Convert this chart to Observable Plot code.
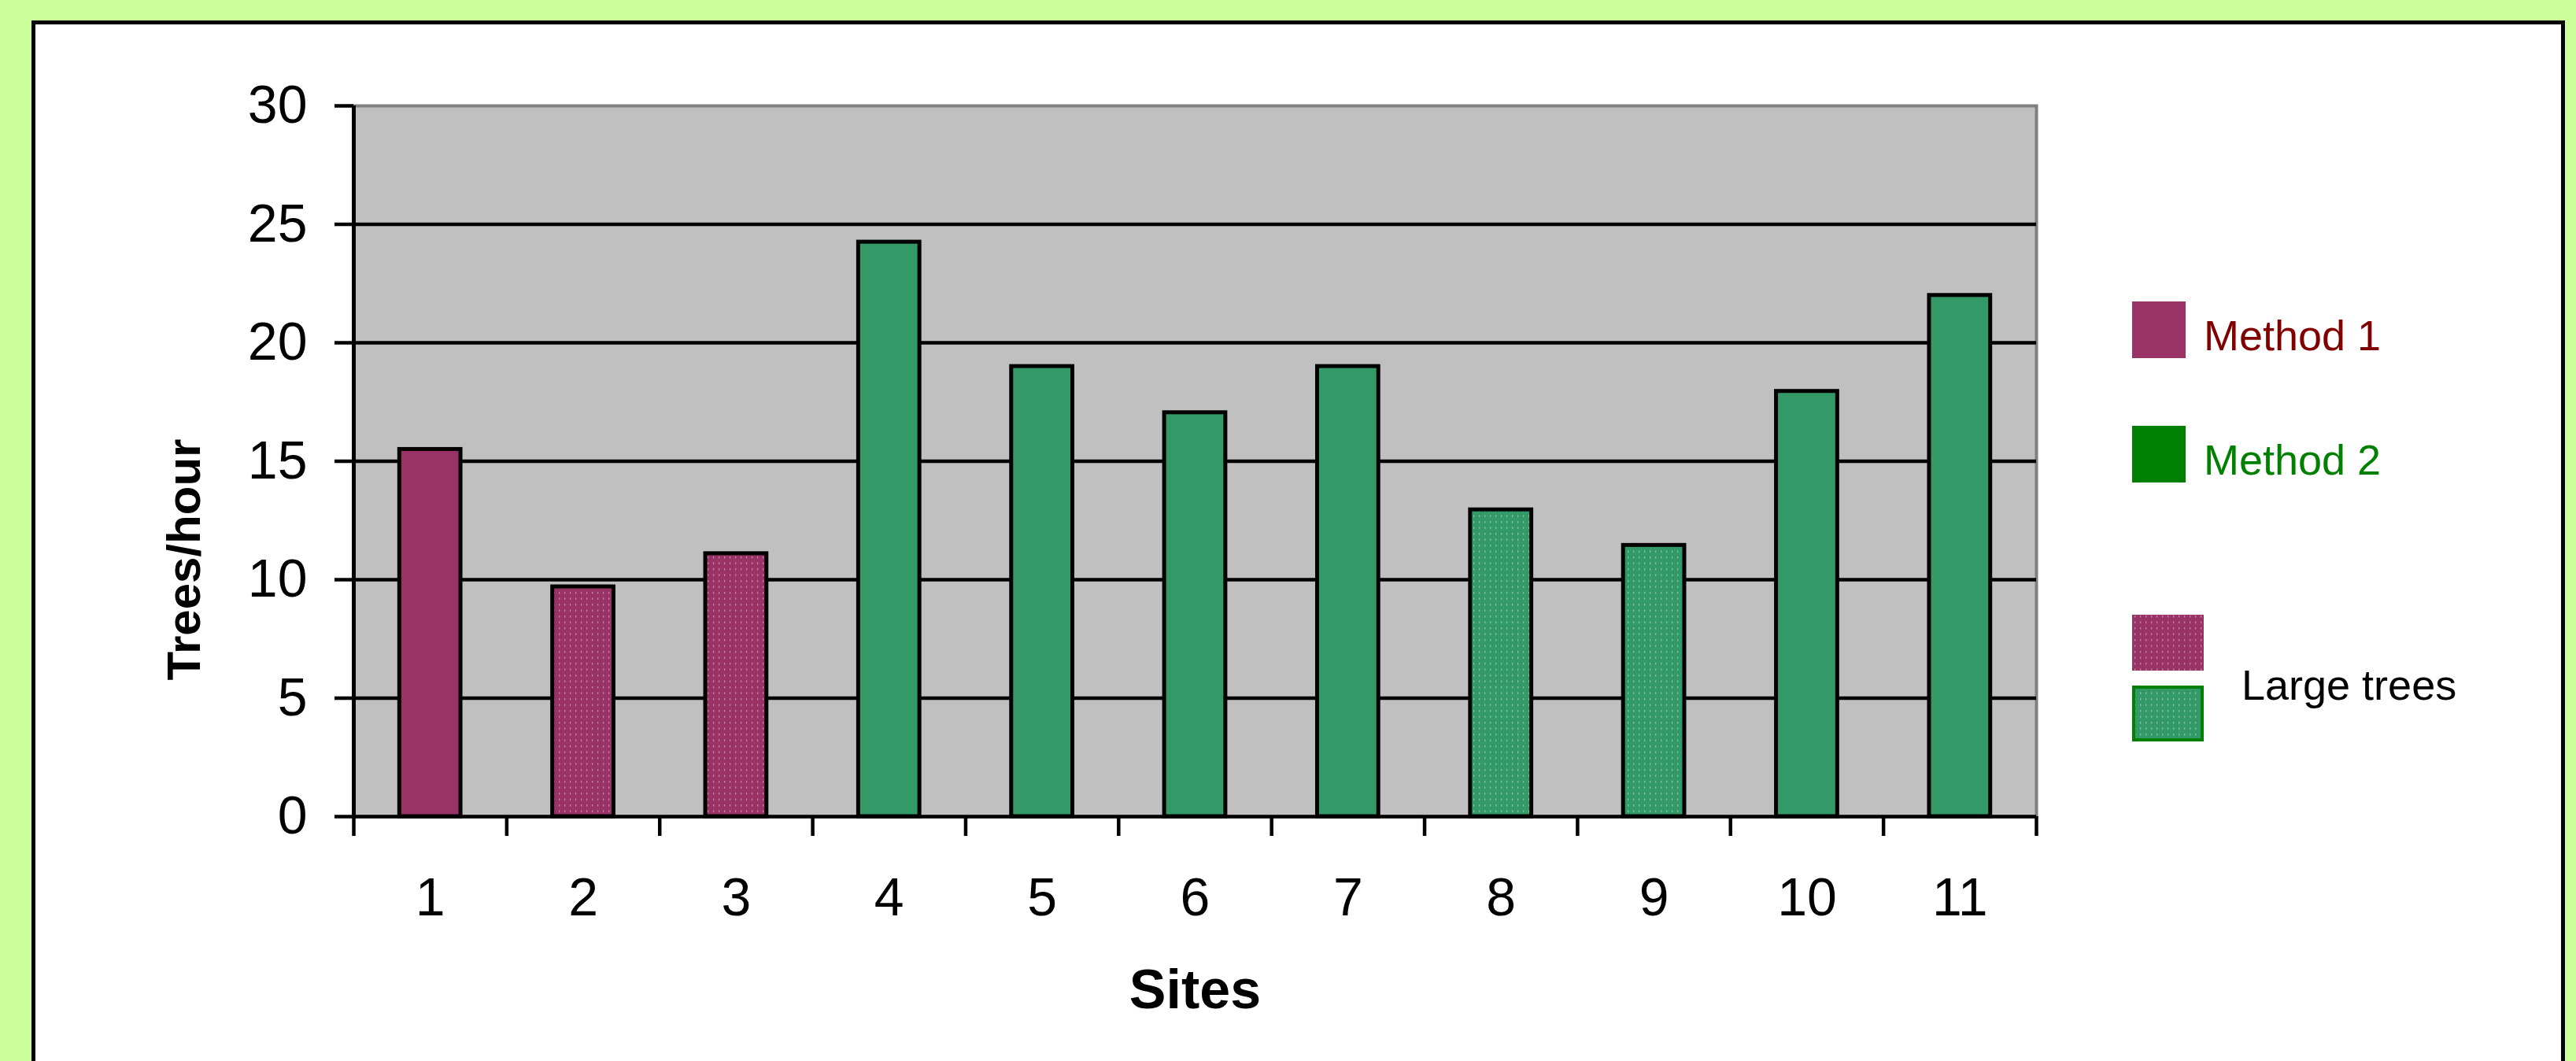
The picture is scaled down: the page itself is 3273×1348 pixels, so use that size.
<!DOCTYPE html>
<html>
<head>
<meta charset="utf-8">
<script src="https://cdn.jsdelivr.net/npm/d3@7"></script>
<script src="https://cdn.jsdelivr.net/npm/@observablehq/plot@0.6"></script>
<style>
html, body { margin: 0; padding: 0; overflow: hidden; background: #CCFF99; width: 3273px; height: 1348px; }
#frame { position: absolute; left: 40px; top: 26px; width: 3219px; height: 1400px; box-sizing: border-box; border: 5px solid #000; background: #fff; }
#chart { position: absolute; left: 0; top: 0; }
#legend { position: absolute; left: 0; top: 0; pointer-events: none; }
</style>
</head>
<body>
<div id="frame"></div>
<svg width="0" height="0" style="position:absolute">
  <defs>
    <pattern id="dotsMagenta" patternUnits="userSpaceOnUse" width="7" height="7.5">
      <rect width="7" height="7.5" fill="#993366"></rect>
      <rect x="3" y="2" width="1.3" height="2.4" fill="#c98aab"></rect>
    </pattern>
    <pattern id="dotsGreen" patternUnits="userSpaceOnUse" width="7" height="7.5">
      <rect width="7" height="7.5" fill="#339966"></rect>
      <rect x="3" y="2" width="1.3" height="2.4" fill="#8cc9a6"></rect>
    </pattern>
  </defs>
</svg>
<div id="chart"></div>
<svg id="legend" width="3273" height="1348"></svg>
<script>
// ---- data ----
const sites = [1, 2, 3, 4, 5, 6, 7, 8, 9, 10, 11];
const treesPerHour = [15.5, 9.7, 11.1, 24.25, 19.0, 17.05, 19.0, 12.95, 11.45, 17.95, 22.0];
const methods = ["Method 1", "Method 1", "Method 1", "Method 2", "Method 2", "Method 2", "Method 2", "Method 2", "Method 2", "Method 2", "Method 2"];
const largeTrees = [false, true, true, false, false, false, false, true, true, false, false];
const yTicks = [0, 5, 10, 15, 20, 25, 30];
const yLabel = "Trees/hour";
const xLabel = "Sites";
const legendLabels = ["Method 1", "Method 2", "Large trees"];

// ---- styles ----
const barColors = {"Method 1": "#993366", "Method 2": "#339966"};
const patternFills = {"Method 1": "url(#dotsMagenta)", "Method 2": "url(#dotsGreen)"};
const FONT = "'Liberation Sans', Arial, Helvetica, sans-serif";

const data = sites.map((s, i) => ({site: s, value: treesPerHour[i], method: methods[i], large: largeTrees[i]}));
const boundaries = [...sites.map(s => s - 0.5), sites[sites.length - 1] + 0.5];

const chart = Plot.plot({
  width: 3273,
  height: 1348,
  marginLeft: 449,
  marginRight: 686,
  marginTop: 134,
  marginBottom: 311,
  style: {background: "transparent", fontFamily: FONT, color: "#000", overflow: "visible"},
  x: {type: "linear", domain: [0.5, 11.5]},
  y: {domain: [0, 30]},
  color: {type: "identity"},
  marks: [
    Plot.frame({fill: "#C0C0C0", stroke: "#808080", strokeWidth: 4}),
    Plot.ruleY(yTicks.filter(t => t > 0 && t < 30), {stroke: "#000", strokeWidth: 4.5}),
    Plot.rectY(data, {
      x1: d => d.site - 0.2,
      x2: d => d.site + 0.2,
      y1: 0,
      y2: "value",
      fill: d => d.large ? patternFills[d.method] : barColors[d.method],
      stroke: "#000",
      strokeWidth: 5
    }),
    Plot.ruleY([0], {stroke: "#000", strokeWidth: 4.5}),
    Plot.ruleX([0.5], {stroke: "#000", strokeWidth: 5}),
    Plot.axisY({ticks: yTicks, tickSize: 24, tickPadding: 35, fontSize: 68, strokeWidth: 4.5, label: null}),
    Plot.axisX({ticks: boundaries, tickSize: 25, tickFormat: () => "", strokeWidth: 4.5, label: null}),
    Plot.axisX({ticks: sites, tickSize: 0, tickPadding: 77, fontSize: 68, label: null}),
    Plot.text([yLabel], {text: d => d, frameAnchor: "left", dx: -196, dy: 125, rotate: -90, textAnchor: "middle", lineAnchor: "bottom", fontSize: 60, fontWeight: "bold"}),
    Plot.text([xLabel], {text: d => d, frameAnchor: "bottom", dy: 243, lineAnchor: "bottom", fontSize: 70, fontWeight: "bold"})
  ]
});
document.getElementById("chart").appendChild(chart);

// ---- legend ----
const lg = d3.select("#legend");
lg.append("rect").attr("x", 2709).attr("y", 383).attr("width", 68).attr("height", 72).attr("fill", "#993366");
lg.append("text").attr("x", 2800).attr("y", 445).attr("fill", "#800000").attr("font-size", 54).attr("font-family", FONT).text(legendLabels[0]);
lg.append("rect").attr("x", 2709).attr("y", 541).attr("width", 68).attr("height", 72).attr("fill", "#008000");
lg.append("text").attr("x", 2800).attr("y", 603).attr("fill", "#008000").attr("font-size", 54).attr("font-family", FONT).text(legendLabels[1]);
lg.append("rect").attr("x", 2709).attr("y", 781).attr("width", 91).attr("height", 71).attr("fill", "url(#dotsMagenta)");
lg.append("rect").attr("x", 2711).attr("y", 873).attr("width", 87).attr("height", 67).attr("fill", "url(#dotsGreen)").attr("stroke", "#008000").attr("stroke-width", 4);
lg.append("text").attr("x", 2848).attr("y", 889).attr("fill", "#000").attr("font-size", 54).attr("font-family", FONT).text(legendLabels[2]);
</script>
</body>
</html>
